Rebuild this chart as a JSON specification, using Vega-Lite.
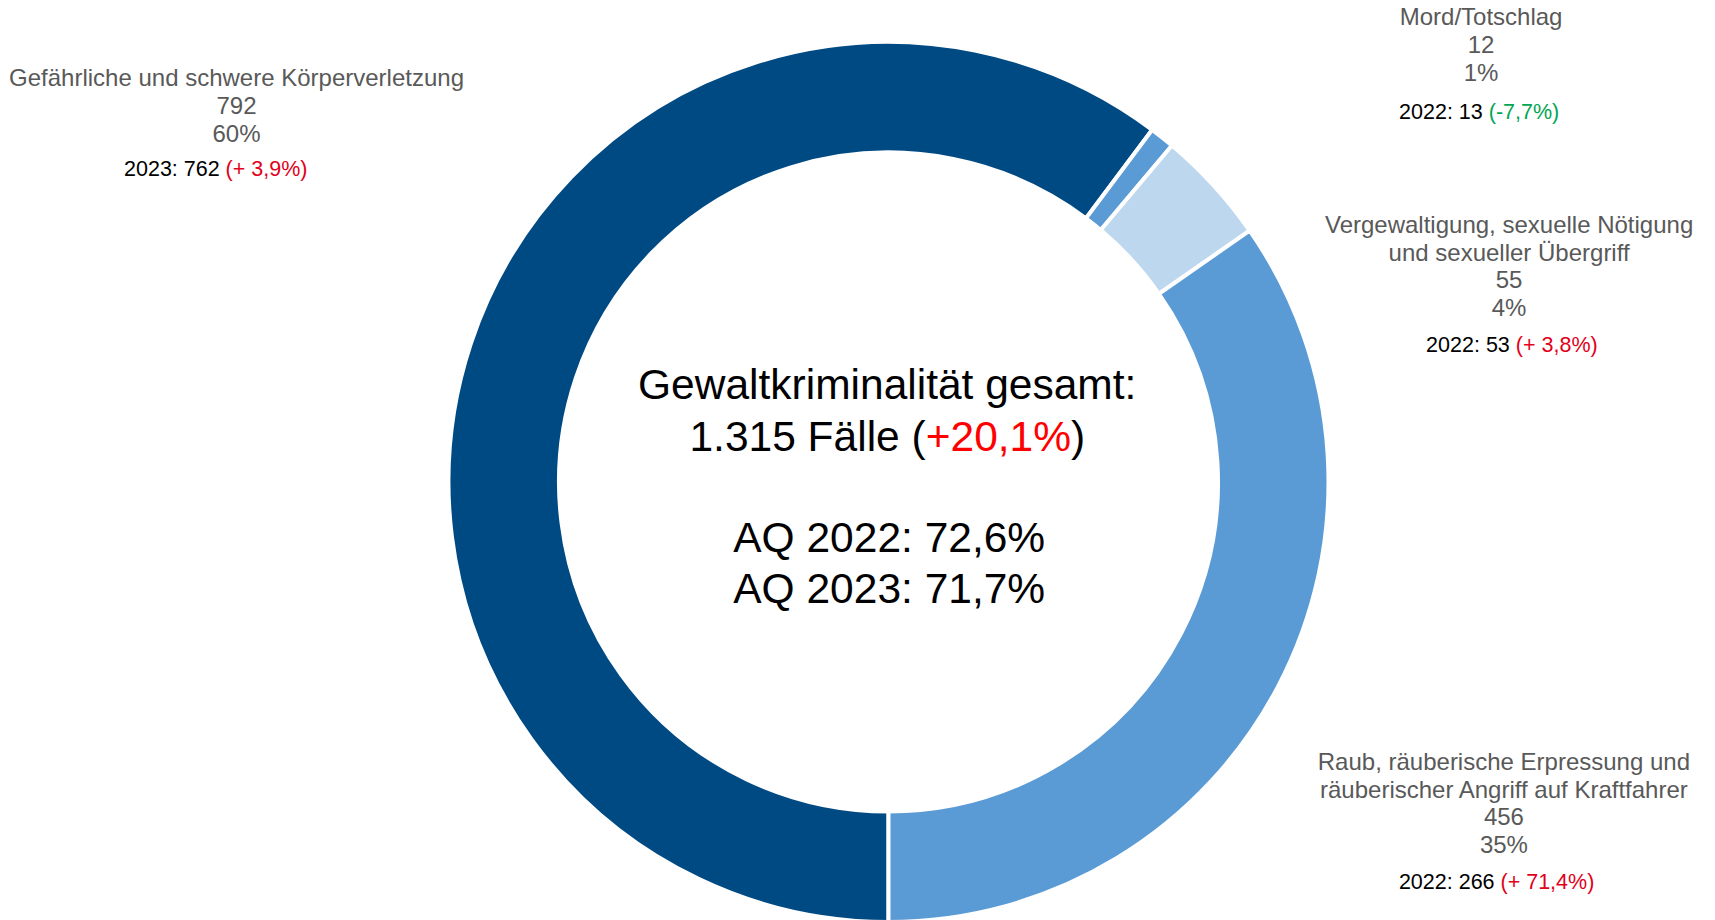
{
  "$schema": "https://vega.github.io/schema/vega-lite/v6.json",
  "autosize": "none",
  "width": 1653,
  "height": 876,
  "padding": {"left": 62, "top": 44, "right": 0, "bottom": 0},
  "background": "#ffffff",
  "config": {"view": {"stroke": null}},
  "datasets": {
    "categories": [
      {"key": "gef", "rank": 1, "category": "Gefährliche und schwere Körperverletzung", "value": 792, "label": "Gefährliche und schwere Körperverletzung\n792\n60%", "prev": "2023: 762", "change": "(+ 3,9%)", "trend": "Anstieg"},
      {"key": "mord", "rank": 2, "category": "Mord/Totschlag", "value": 12, "label": "Mord/Totschlag\n12\n1%", "prev": "2022: 13", "change": "(-7,7%)", "trend": "Rückgang"},
      {"key": "verg", "rank": 3, "category": "Vergewaltigung, sexuelle Nötigung und sexueller Übergriff", "value": 55, "label": "Vergewaltigung, sexuelle Nötigung\nund sexueller Übergriff\n55\n4%", "prev": "2022: 53", "change": "(+ 3,8%)", "trend": "Anstieg"},
      {"key": "raub", "rank": 4, "category": "Raub, räuberische Erpressung und räuberischer Angriff auf Kraftfahrer", "value": 456, "label": "Raub, räuberische Erpressung und\nräuberischer Angriff auf Kraftfahrer\n456\n35%", "prev": "2022: 266", "change": "(+ 71,4%)", "trend": "Anstieg"}
    ],
    "centre": [
      {"title": "Gewaltkriminalität gesamt:", "cases": "1.315 Fälle (", "change": "+20,1%", "close": ")", "aq2022": "AQ 2022: 72,6%", "aq2023": "AQ 2023: 71,7%"}
    ]
  },
  "data": {"name": "categories"},
  "layer": [
    {
      "mark": {"type": "arc", "radius": 440, "innerRadius": 329.5, "stroke": "#ffffff", "strokeWidth": 4},
      "encoding": {
        "theta": {"field": "value", "type": "quantitative", "stack": true, "scale": {"range": [3.141592653589793, 9.42477796076938]}},
        "order": {"field": "rank", "type": "quantitative"},
        "color": {
          "field": "category", "type": "nominal", "legend": null,
          "scale": {
            "domain": ["Gefährliche und schwere Körperverletzung", "Mord/Totschlag", "Vergewaltigung, sexuelle Nötigung und sexueller Übergriff", "Raub, räuberische Erpressung und räuberischer Angriff auf Kraftfahrer"],
            "range": ["#004A84", "#5B9BD5", "#BDD7EE", "#5B9BD5"]
          }
        }
      }
    },
    {
      "mark": {"type": "text", "radius": 440, "align": "center", "baseline": "alphabetic", "font": "Liberation Sans", "fontSize": 24, "lineHeight": 28, "lineBreak": "\n", "color": "#595959", "dx": -234.5, "dy": -257.1},
      "encoding": {
        "theta": {"field": "value", "type": "quantitative", "stack": true},
        "order": {"field": "rank", "type": "quantitative"},
        "detail": {"field": "key", "type": "nominal"},
        "text": {"condition": {"test": "datum.key === 'gef'", "field": "label", "type": "nominal"}, "value": ""}
      }
    },
    {
      "mark": {"type": "text", "radius": 440, "align": "center", "baseline": "alphabetic", "font": "Liberation Sans", "fontSize": 24, "lineHeight": 28, "lineBreak": "\n", "color": "#595959", "dx": 318.9, "dy": -112.4},
      "encoding": {
        "theta": {"field": "value", "type": "quantitative", "stack": true},
        "order": {"field": "rank", "type": "quantitative"},
        "detail": {"field": "key", "type": "nominal"},
        "text": {"condition": {"test": "datum.key === 'mord'", "field": "label", "type": "nominal"}, "value": ""}
      }
    },
    {
      "mark": {"type": "text", "radius": 440, "align": "center", "baseline": "alphabetic", "font": "Liberation Sans", "fontSize": 24, "lineHeight": 27.5, "lineBreak": "\n", "color": "#595959", "dx": 295.5, "dy": 47.6},
      "encoding": {
        "theta": {"field": "value", "type": "quantitative", "stack": true},
        "order": {"field": "rank", "type": "quantitative"},
        "detail": {"field": "key", "type": "nominal"},
        "text": {"condition": {"test": "datum.key === 'verg'", "field": "label", "type": "nominal"}, "value": ""}
      }
    },
    {
      "mark": {"type": "text", "radius": 440, "align": "center", "baseline": "alphabetic", "font": "Liberation Sans", "fontSize": 24, "lineHeight": 27.5, "lineBreak": "\n", "color": "#595959", "dx": 225.4, "dy": 84.4},
      "encoding": {
        "theta": {"field": "value", "type": "quantitative", "stack": true},
        "order": {"field": "rank", "type": "quantitative"},
        "detail": {"field": "key", "type": "nominal"},
        "text": {"condition": {"test": "datum.key === 'raub'", "field": "label", "type": "nominal"}, "value": ""}
      }
    },
    {
      "mark": {"type": "text", "radius": 440, "align": "left", "baseline": "alphabetic", "font": "Liberation Sans", "fontSize": 21.5, "color": "#000000", "dx": -347, "dy": -167.1},
      "encoding": {
        "theta": {"field": "value", "type": "quantitative", "stack": true},
        "order": {"field": "rank", "type": "quantitative"},
        "detail": {"field": "key", "type": "nominal"},
        "text": {"condition": {"test": "datum.key === 'gef'", "field": "prev", "type": "nominal"}, "value": ""}
      }
    },
    {
      "mark": {"type": "text", "radius": 440, "align": "left", "baseline": "alphabetic", "font": "Liberation Sans", "fontSize": 21.5, "dx": -245.4, "dy": -167.1},
      "encoding": {
        "theta": {"field": "value", "type": "quantitative", "stack": true},
        "order": {"field": "rank", "type": "quantitative"},
        "detail": {"field": "key", "type": "nominal"},
        "color": {"condition": {"test": "datum.trend === 'Rückgang'", "value": "#00A651"}, "value": "#E2001A"},
        "text": {"condition": {"test": "datum.key === 'gef'", "field": "change", "type": "nominal"}, "value": ""}
      }
    },
    {
      "mark": {"type": "text", "radius": 440, "align": "left", "baseline": "alphabetic", "font": "Liberation Sans", "fontSize": 21.5, "color": "#000000", "dx": 236.9, "dy": -18.4},
      "encoding": {
        "theta": {"field": "value", "type": "quantitative", "stack": true},
        "order": {"field": "rank", "type": "quantitative"},
        "detail": {"field": "key", "type": "nominal"},
        "text": {"condition": {"test": "datum.key === 'mord'", "field": "prev", "type": "nominal"}, "value": ""}
      }
    },
    {
      "mark": {"type": "text", "radius": 440, "align": "left", "baseline": "alphabetic", "font": "Liberation Sans", "fontSize": 21.5, "dx": 326.6, "dy": -18.4},
      "encoding": {
        "theta": {"field": "value", "type": "quantitative", "stack": true},
        "order": {"field": "rank", "type": "quantitative"},
        "detail": {"field": "key", "type": "nominal"},
        "color": {"condition": {"test": "datum.trend === 'Rückgang'", "value": "#00A651"}, "value": "#E2001A"},
        "text": {"condition": {"test": "datum.key === 'mord'", "field": "change", "type": "nominal"}, "value": ""}
      }
    },
    {
      "mark": {"type": "text", "radius": 440, "align": "left", "baseline": "alphabetic", "font": "Liberation Sans", "fontSize": 21.5, "color": "#000000", "dx": 212.5, "dy": 166.6},
      "encoding": {
        "theta": {"field": "value", "type": "quantitative", "stack": true},
        "order": {"field": "rank", "type": "quantitative"},
        "detail": {"field": "key", "type": "nominal"},
        "text": {"condition": {"test": "datum.key === 'verg'", "field": "prev", "type": "nominal"}, "value": ""}
      }
    },
    {
      "mark": {"type": "text", "radius": 440, "align": "left", "baseline": "alphabetic", "font": "Liberation Sans", "fontSize": 21.5, "dx": 302.2, "dy": 166.6},
      "encoding": {
        "theta": {"field": "value", "type": "quantitative", "stack": true},
        "order": {"field": "rank", "type": "quantitative"},
        "detail": {"field": "key", "type": "nominal"},
        "color": {"condition": {"test": "datum.trend === 'Rückgang'", "value": "#00A651"}, "value": "#E2001A"},
        "text": {"condition": {"test": "datum.key === 'verg'", "field": "change", "type": "nominal"}, "value": ""}
      }
    },
    {
      "mark": {"type": "text", "radius": 440, "align": "left", "baseline": "alphabetic", "font": "Liberation Sans", "fontSize": 21.5, "color": "#000000", "dx": 120.4, "dy": 203.7},
      "encoding": {
        "theta": {"field": "value", "type": "quantitative", "stack": true},
        "order": {"field": "rank", "type": "quantitative"},
        "detail": {"field": "key", "type": "nominal"},
        "text": {"condition": {"test": "datum.key === 'raub'", "field": "prev", "type": "nominal"}, "value": ""}
      }
    },
    {
      "mark": {"type": "text", "radius": 440, "align": "left", "baseline": "alphabetic", "font": "Liberation Sans", "fontSize": 21.5, "dx": 222.0, "dy": 203.7},
      "encoding": {
        "theta": {"field": "value", "type": "quantitative", "stack": true},
        "order": {"field": "rank", "type": "quantitative"},
        "detail": {"field": "key", "type": "nominal"},
        "color": {"condition": {"test": "datum.trend === 'Rückgang'", "value": "#00A651"}, "value": "#E2001A"},
        "text": {"condition": {"test": "datum.key === 'raub'", "field": "change", "type": "nominal"}, "value": ""}
      }
    },
    {
      "data": {"name": "centre"},
      "mark": {"type": "text", "align": "center", "baseline": "alphabetic", "font": "Liberation Sans", "fontSize": 42.5, "color": "#000000", "dx": -1.3, "dy": -82.7},
      "encoding": {"text": {"field": "title", "type": "nominal"}}
    },
    {
      "data": {"name": "centre"},
      "mark": {"type": "text", "align": "right", "baseline": "alphabetic", "font": "Liberation Sans", "fontSize": 42.5, "color": "#000000", "dx": 37.2, "dy": -31.3},
      "encoding": {"text": {"field": "cases", "type": "nominal"}}
    },
    {
      "data": {"name": "centre"},
      "mark": {"type": "text", "align": "left", "baseline": "alphabetic", "font": "Liberation Sans", "fontSize": 42.5, "color": "#FF0000", "dx": 37.2, "dy": -31.3},
      "encoding": {"text": {"field": "change", "type": "nominal"}}
    },
    {
      "data": {"name": "centre"},
      "mark": {"type": "text", "align": "left", "baseline": "alphabetic", "font": "Liberation Sans", "fontSize": 42.5, "color": "#000000", "dx": 182.5, "dy": -31.3},
      "encoding": {"text": {"field": "close", "type": "nominal"}}
    },
    {
      "data": {"name": "centre"},
      "mark": {"type": "text", "align": "center", "baseline": "alphabetic", "font": "Liberation Sans", "fontSize": 42.5, "color": "#000000", "dx": 0.7, "dy": 70.3},
      "encoding": {"text": {"field": "aq2022", "type": "nominal"}}
    },
    {
      "data": {"name": "centre"},
      "mark": {"type": "text", "align": "center", "baseline": "alphabetic", "font": "Liberation Sans", "fontSize": 42.5, "color": "#000000", "dx": 0.7, "dy": 120.7},
      "encoding": {"text": {"field": "aq2023", "type": "nominal"}}
    }
  ]
}
